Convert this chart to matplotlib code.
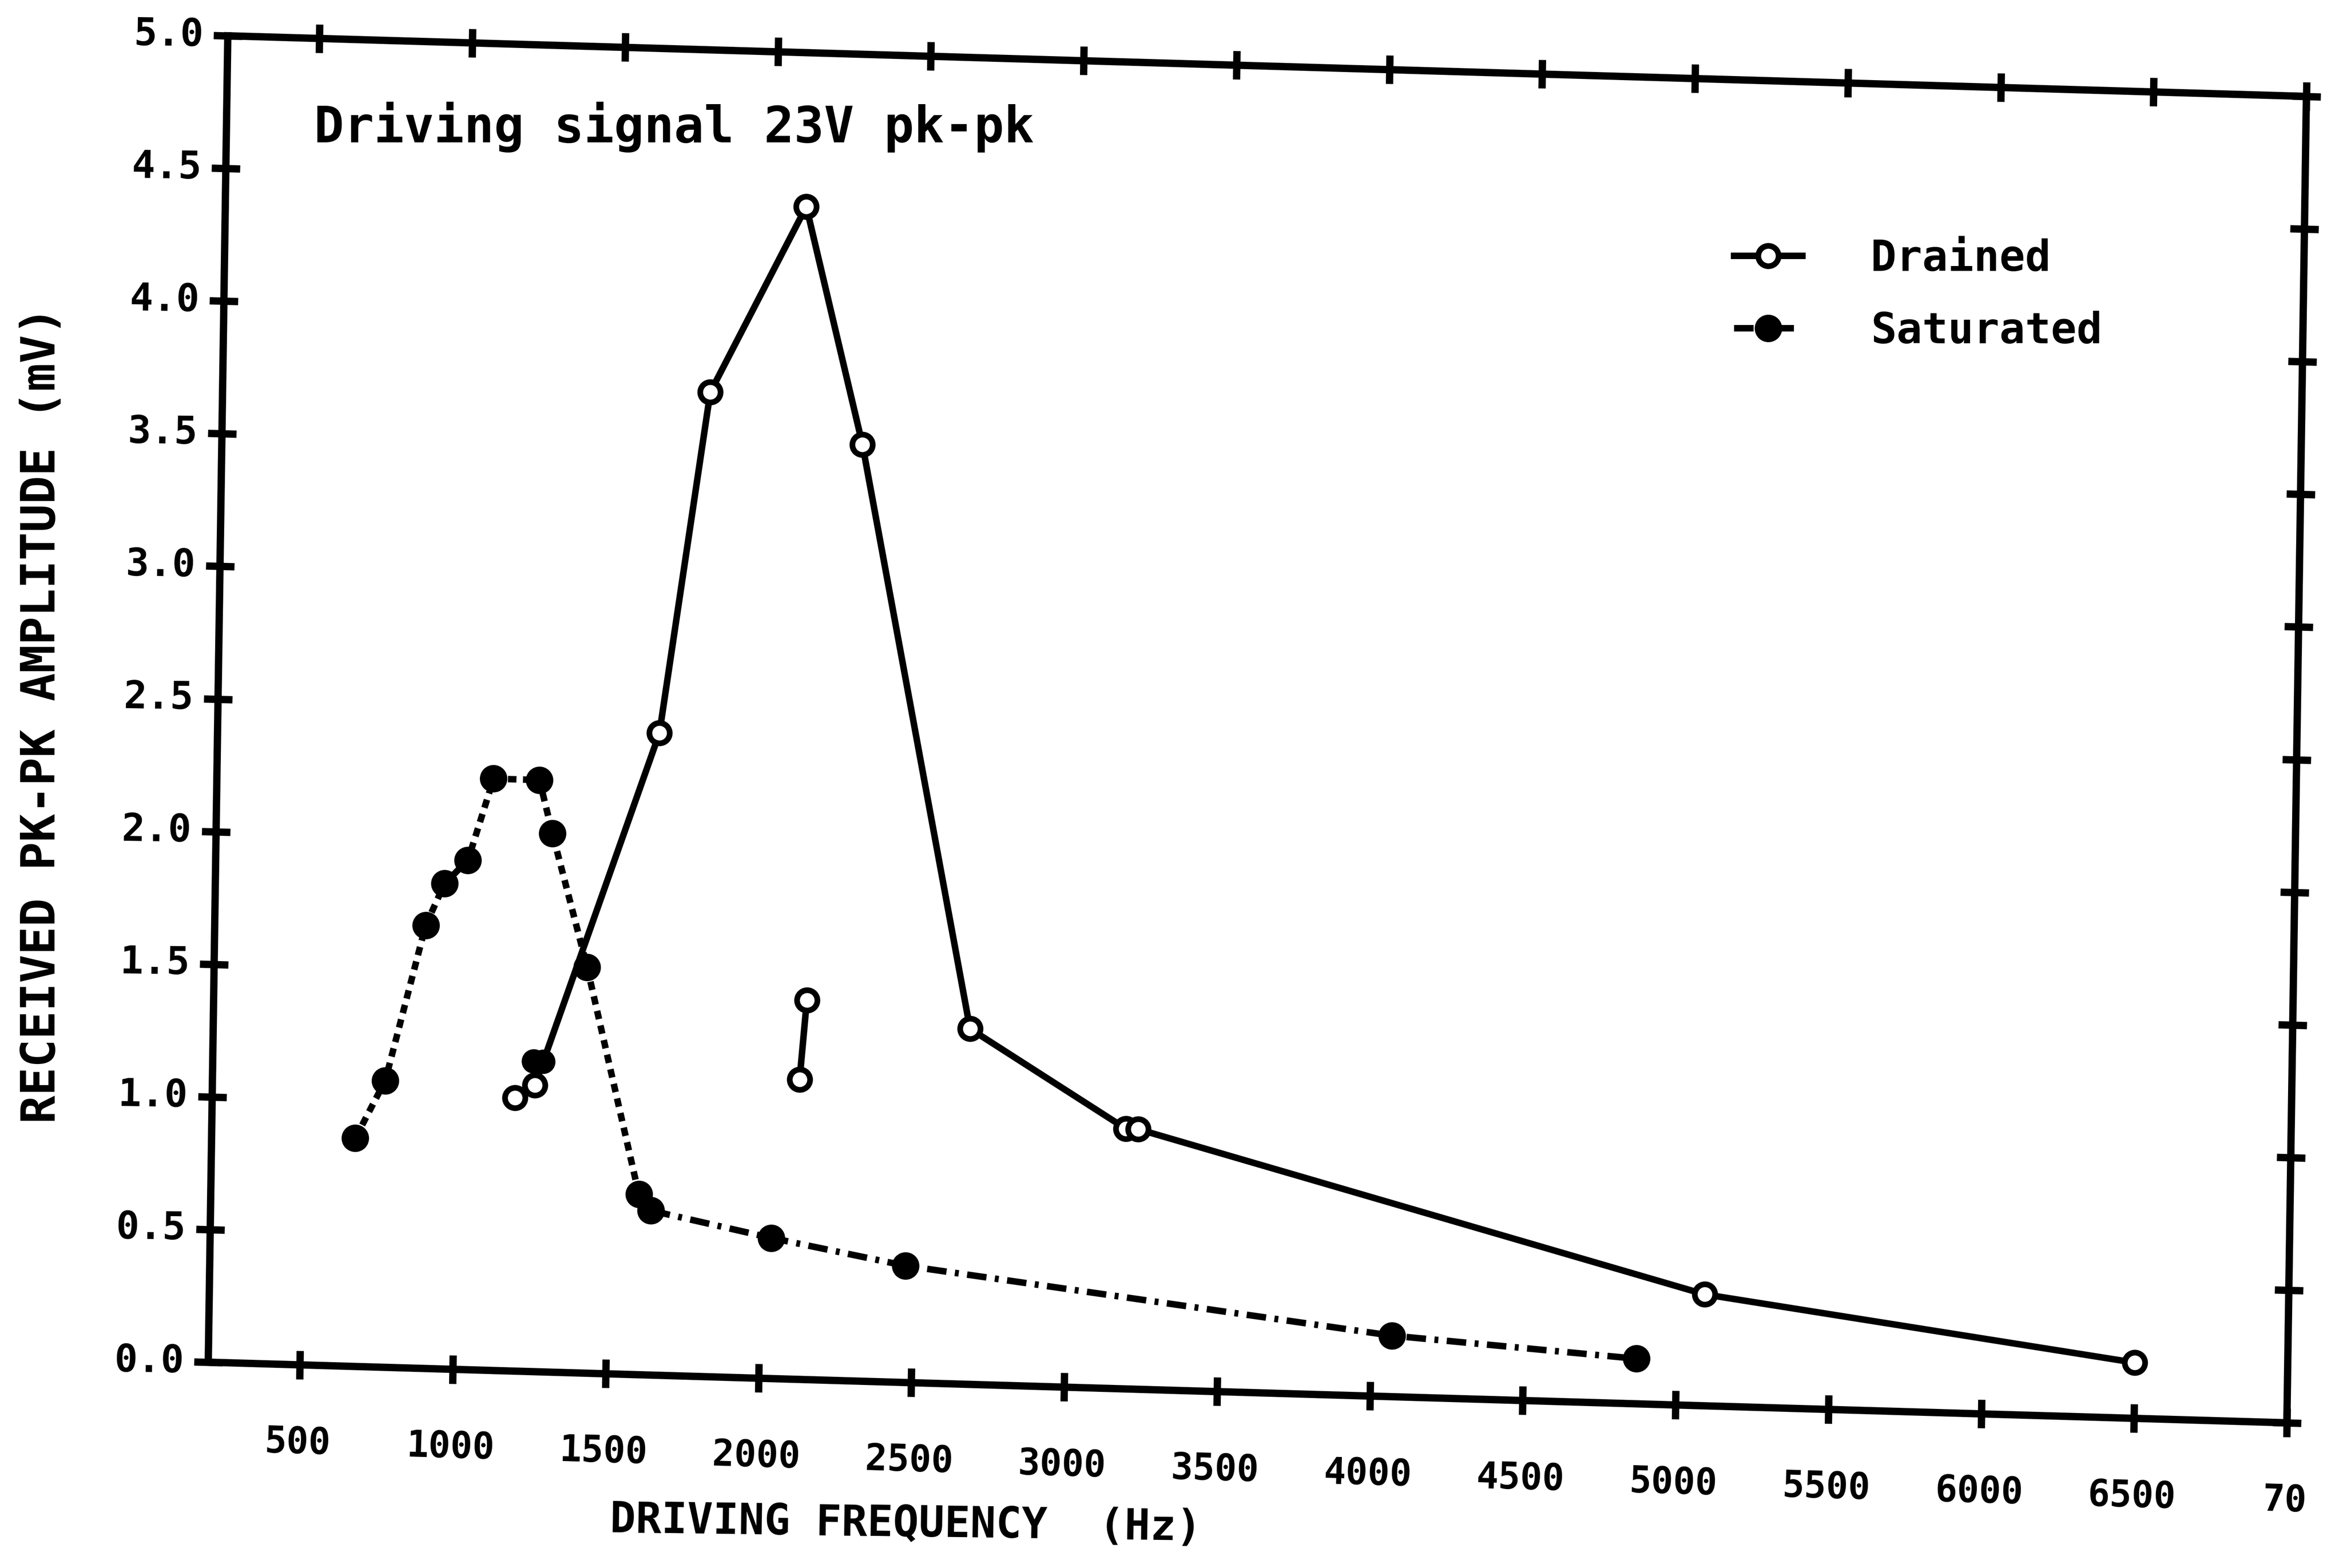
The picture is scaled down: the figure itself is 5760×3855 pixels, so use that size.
import numpy as np
import matplotlib
matplotlib.use("Agg")
import matplotlib.pyplot as plt
from matplotlib.transforms import Affine2D
import mpl_toolkits.axisartist.floating_axes as floating_axes
from mpl_toolkits.axisartist.grid_finder import FixedLocator, DictFormatter

# drained specimen: open circles on a solid line
drained_freq = [1190, 1255, 1645, 1795, 2100, 2295, 2675, 3190, 3230, 5090, 6500]
drained_amp = [1.03, 1.08, 2.42, 3.71, 4.42, 3.53, 1.34, 0.98, 0.98, 0.42, 0.21]
# two drained readings that came out as filled dots on the rising branch
drained_dot_freq = [1250, 1280]
drained_dot_amp = [1.17, 1.17]
# short repeat run near 2100 Hz
repeat_freq = [2120, 2140]
repeat_amp = [1.13, 1.43]

# saturated specimen: filled dots, dashed then dash-dot
sat_freq = [670, 765, 890, 950, 1025, 1105, 1255, 1300, 1420, 1600, 1640,
            2035, 2475, 4070, 4870]
sat_amp = [0.86, 1.08, 1.67, 1.83, 1.92, 2.23, 2.23, 2.03, 1.53, 0.68, 0.62,
           0.53, 0.44, 0.23, 0.17]

x_ticks = [500, 1000, 1500, 2000, 2500, 3000, 3500, 4000, 4500, 5000, 5500,
           6000, 6500, 7000]
x_tick_labels = ["500", "1000", "1500", "2000", "2500", "3000", "3500", "4000",
                 "4500", "5000", "5500", "6000", "6500", "70"]
y_ticks = [0.0, 0.5, 1.0, 1.5, 2.0, 2.5, 3.0, 3.5, 4.0, 4.5, 5.0]
y_tick_labels = ["0.0", "0.5", "1.0", "1.5", "2.0", "2.5", "3.0", "3.5",
                 "4.0", "4.5", "5.0"]

plt.rcParams["font.family"] = "DejaVu Sans Mono"
plt.rcParams["font.weight"] = "bold"

W_PX, H_PX, DPI = 5761, 3855, 360
fig = plt.figure(figsize=(W_PX / DPI, H_PX / DPI), dpi=DPI)

# the scanned frame is slightly skewed; corners measured in pixels (y down)
f_lo, f_hi = 200, 7000
a_lo, a_hi = 0.0, 5.0
top_left = np.array([560.0, 88.0])
x_edge = np.array([5110.0, 149.0])
y_edge = np.array([-48.0, 3261.0])

per_hz = x_edge / (f_hi - f_lo)
per_mv = -y_edge / (a_hi - a_lo)
origin = top_left - f_lo * per_hz - a_hi * per_mv
skew = Affine2D(np.array([[per_hz[0], per_mv[0], origin[0]],
                          [-per_hz[1], -per_mv[1], H_PX - origin[1]],
                          [0.0, 0.0, 1.0]]))

helper = floating_axes.GridHelperCurveLinear(
    skew, extremes=(f_lo, f_hi, a_lo, a_hi),
    grid_locator1=FixedLocator(x_ticks),
    tick_formatter1=DictFormatter(dict(zip(x_ticks, x_tick_labels))),
    grid_locator2=FixedLocator(y_ticks),
    tick_formatter2=DictFormatter(dict(zip(y_ticks, y_tick_labels))))

corners = skew.transform([[f_lo, a_lo], [f_hi, a_lo], [f_hi, a_hi], [f_lo, a_hi]])
x0, y0 = corners.min(axis=0)
x1, y1 = corners.max(axis=0)
bw, bh = x1 - x0, y1 - y0
box = [x0 - 0.01 * bw, y0 - 0.01 * bh, 1.02 * bw, 1.02 * bh]

ax = fig.add_axes([box[0] / W_PX, box[1] / H_PX, box[2] / W_PX, box[3] / H_PX],
                  axes_class=floating_axes.FloatingAxes, grid_helper=helper)
ax.set_aspect("auto")

lw = 3.6
for loc in ["bottom", "top", "left", "right"]:
    side = ax.axis[loc]
    side.line.set_linewidth(lw)
    side.major_ticks.set_ticksize(7)
    side.major_ticks.set_markeredgewidth(lw)
    outer = helper.new_fixed_axis(loc, axes=ax)
    outer.line.set_visible(False)
    outer.major_ticklabels.set_visible(False)
    outer.label.set_visible(False)
    outer.major_ticks.set_tick_out(True)
    outer.major_ticks.set_ticksize(7)
    outer.major_ticks.set_markeredgewidth(lw)
    ax.axis[loc + "_out"] = outer

ax.axis["bottom"].major_ticklabels.set_fontsize(18)
ax.axis["bottom"].major_ticklabels.set_fontweight("bold")
ax.axis["bottom"].major_ticklabels.set_pad(30)
ax.axis["left"].major_ticklabels.set_fontsize(19)
ax.axis["left"].major_ticklabels.set_fontweight("bold")
ax.axis["left"].major_ticklabels.set_pad(12)

aux = ax.get_aux_axes(skew)

line_w = 3.2
drained_line, = aux.plot(drained_freq, drained_amp, color="black", lw=line_w,
                         marker="o", ms=10, mew=2.8, mfc="white", mec="black",
                         label="Drained", zorder=3)
aux.plot(drained_dot_freq, drained_dot_amp, ls="none", marker="o", ms=11,
         color="black", zorder=4)
aux.plot(repeat_freq, repeat_amp, color="black", lw=line_w, marker="o", ms=10,
         mew=2.8, mfc="white", mec="black", zorder=3)

split = 10
aux.plot(sat_freq[:split + 1], sat_amp[:split + 1], color="black", lw=line_w,
         ls=(0, (1.3, 1.0)), marker="o", ms=12.5, zorder=3)
sat_tail, = aux.plot(sat_freq[split:], sat_amp[split:], color="black", lw=line_w,
                     ls=(0, (3.0, 1.3, 0.6, 1.3)), marker="o", ms=12.5,
                     label="Saturated", zorder=3)

ax.set_xlim(box[0], box[0] + box[2])
ax.set_ylim(box[1], box[1] + box[3])

fig.text(0.134, 0.919, "Driving signal 23V pk-pk", fontsize=24.5,
         ha="left", va="center")
fig.text(0.3865, 0.0276, "DRIVING FREQUENCY  (Hz)", fontsize=21,
         ha="center", va="center", rotation=-0.8)
fig.text(0.0179, 0.544, "RECEIVED PK-PK AMPLITUDE (mV)", fontsize=23,
         ha="center", va="center", rotation=90)

fig.legend(handles=[drained_line, sat_tail], labels=["Drained", "Saturated"],
           loc="upper left", bbox_to_anchor=(0.740, 0.848), frameon=False,
           prop={"family": "DejaVu Sans Mono", "weight": "bold", "size": 21},
           handlelength=1.6, handletextpad=1.6, labelspacing=0.72,
           borderpad=0, borderaxespad=0, numpoints=1)

fig.savefig("out.png", dpi=DPI, facecolor="white")
